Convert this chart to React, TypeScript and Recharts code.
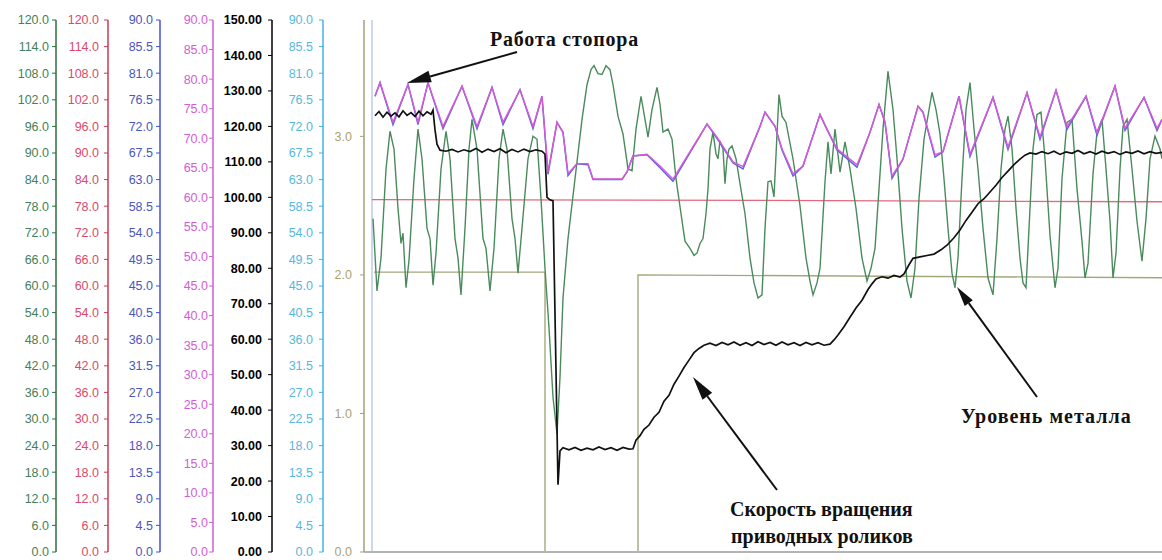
import React from "react";
import { ComposedChart, Line, XAxis, YAxis, ReferenceLine } from "recharts";

// t = sample index along the record, values in the units of each channel's own axis

// Уровень металла (green axis, 0..120)
const metalLevel: [number, number][] = [
  [9, 75.2], [13, 58.9], [17, 66.3], [22, 86.4], [26, 94.9], [30, 90.9], [34, 77.5], [37, 69.6],
  [39, 71.9], [42, 59.6], [45, 65.8], [50, 84.2], [54, 95.4], [58, 88.7], [63, 73.0], [66, 70.7],
  [69, 60.2], [72, 67.4], [77, 86.4], [82, 94.9], [86, 88.7], [91, 70.7], [94, 66.3], [97, 58.0],
  [101, 73.0], [105, 90.9], [108, 97.6], [113, 90.9], [119, 70.7], [122, 68.5], [126, 58.9],
  [130, 68.5], [135, 88.7], [139, 95.4], [143, 90.9], [148, 75.2], [151, 70.7], [154, 62.9],
  [158, 73.0], [164, 88.7], [169, 93.8], [173, 93.1], [177, 79.7], [181, 64.0], [185, 50.6],
  [189, 34.9], [193, 26.6], [196, 39.4], [199, 57.3], [204, 70.7], [211, 84.2], [218, 97.6],
  [223, 105.4], [227, 108.8], [230, 109.7], [234, 107.9], [238, 107.7], [242, 109.7], [246, 108.8],
  [249, 105.4], [254, 98.3], [259, 94.3], [264, 86.4], [268, 86.0], [272, 95.4], [277, 102.8],
  [281, 97.6], [284, 93.6], [288, 99.8], [293, 104.8], [296, 101.0], [299, 94.7], [304, 95.4],
  [308, 93.1], [312, 84.2], [317, 76.3], [321, 70.1], [326, 68.5], [330, 66.9], [333, 67.4],
  [336, 69.6], [339, 70.7], [342, 76.3], [344, 81.9], [346, 90.9], [349, 94.7], [352, 89.8],
  [354, 88.7], [356, 92.7], [359, 90.9], [361, 83.1], [363, 88.7], [365, 90.9], [368, 91.6],
  [372, 88.7], [376, 83.1], [381, 76.3], [386, 66.3], [390, 60.7], [394, 57.3], [398, 58.0],
  [401, 73.0], [404, 83.5], [407, 83.7], [410, 80.1], [413, 94.3], [415, 103.2], [418, 98.3],
  [422, 96.9], [429, 88.7], [436, 78.1], [442, 66.3], [446, 61.1], [449, 58.0], [453, 60.7],
  [456, 64.0], [461, 83.5], [464, 92.5], [467, 85.3], [471, 95.4], [476, 85.7], [481, 92.5],
  [486, 86.4], [492, 77.5], [498, 66.3], [503, 61.1], [507, 64.0], [511, 68.5], [515, 81.9],
  [519, 95.4], [524, 108.4], [529, 99.8], [533, 88.7], [538, 73.0], [543, 61.1], [547, 57.3],
  [551, 64.0], [555, 79.7], [560, 93.1], [568, 103.7], [572, 99.8], [576, 94.3], [580, 84.2],
  [584, 73.0], [588, 62.9], [591, 59.6], [594, 66.3], [598, 84.2], [602, 99.8], [606, 105.9],
  [610, 95.4], [614, 86.4], [619, 73.0], [624, 61.8], [629, 58.0], [633, 70.7], [637, 86.4],
  [641, 95.4], [644, 98.3], [648, 90.9], [652, 77.5], [656, 66.3], [659, 60.7], [662, 59.6],
  [665, 73.0], [669, 90.9], [673, 98.7], [677, 99.2], [681, 88.7], [686, 71.4], [691, 59.6],
  [694, 64.0], [698, 84.2], [703, 96.9], [708, 97.6], [713, 81.9], [718, 70.1], [721, 61.8],
  [724, 65.1], [729, 85.3], [733, 94.7], [738, 97.6], [742, 86.4], [746, 74.6], [749, 61.8],
  [752, 67.4], [756, 86.4], [759, 96.0], [763, 97.6], [768, 86.4], [773, 74.6], [778, 65.6],
  [782, 75.2], [786, 88.7], [791, 93.8], [796, 90.9], [798, 88.7],
];

// Работа стопора (magenta axis, 0..90)
const stopper: [number, number][] = [
  [11, 77.1], [16, 79.4], [29, 72.7], [44, 79.1], [54, 72.7], [64, 79.4], [79, 72.0], [98, 78.8],
  [113, 72.0], [128, 78.6], [139, 72.7], [156, 78.2], [169, 72.0], [178, 77.1], [184, 64.3],
  [193, 72.7], [199, 71.0], [204, 64.0], [213, 65.7], [224, 65.7], [229, 63.1], [258, 63.1],
  [263, 64.3], [269, 67.0], [283, 67.3], [296, 65.3], [309, 63.1], [343, 72.4], [353, 70.2],
  [369, 66.0], [379, 65.2], [396, 72.0], [401, 74.4], [411, 72.0], [418, 68.2], [429, 64.0],
  [439, 65.3], [456, 74.0], [463, 71.5], [473, 68.2], [493, 65.5], [506, 71.0], [515, 75.7],
  [521, 72.7], [528, 63.6], [539, 66.5], [554, 75.4], [559, 74.4], [571, 67.2], [579, 67.7],
  [595, 77.1], [606, 67.3], [629, 76.9], [644, 68.5], [663, 77.7], [676, 70.2], [692, 78.1],
  [703, 71.9], [722, 77.1], [733, 70.9], [751, 78.8], [761, 71.7], [780, 76.9], [793, 71.7],
  [798, 73.2],
];

// stopper position feedback (blue axis, 0..90): shows under the magenta mostly at the troughs
const stopperFeedback: [number, number][] = [
  [11, 77.1], [16, 79.4], [29, 72.3], [44, 79.1], [54, 72.3], [64, 79.4], [79, 71.6], [98, 78.8],
  [113, 71.6], [128, 78.6], [139, 72.3], [156, 78.2], [169, 71.6], [178, 77.1], [184, 63.9],
  [193, 72.7], [199, 71.0], [204, 63.7], [213, 65.7], [224, 65.5], [229, 63.0], [258, 63.0],
  [263, 64.3], [269, 67.0], [283, 67.2], [296, 65.0], [309, 62.7], [343, 72.4], [353, 70.0],
  [369, 65.8], [379, 64.8], [396, 72.0], [401, 74.4], [411, 72.0], [418, 68.0], [429, 63.6],
  [439, 65.3], [456, 74.0], [463, 71.5], [473, 68.0], [493, 65.1], [506, 71.0], [515, 75.7],
  [521, 72.7], [528, 63.2], [539, 66.5], [554, 75.4], [559, 74.4], [571, 66.8], [579, 67.7],
  [595, 77.1], [606, 66.9], [629, 76.9], [644, 68.1], [663, 77.7], [676, 69.8], [692, 78.1],
  [703, 71.5], [722, 77.1], [733, 70.5], [751, 78.8], [761, 71.3], [780, 76.9], [793, 71.3],
  [798, 73.2],
];

// Скорость вращения приводных роликов (black axis, 0..150)
const rollSpeed: [number, number][] = [
  [11, 123.0], [15, 124.2], [19, 122.6], [23, 124.0], [27, 122.9], [31, 123.8], [35, 122.7],
  [39, 124.4], [43, 123.1], [47, 123.9], [51, 122.8], [55, 124.3], [59, 123.0], [63, 124.1],
  [67, 123.4], [69, 124.6], [71, 119.0], [73, 115.0], [76, 113.3], [82, 113.0], [88, 113.5],
  [94, 112.8], [100, 113.4], [106, 112.9], [112, 113.8], [118, 112.7], [124, 113.6], [130, 112.9],
  [136, 113.7], [142, 112.6], [148, 113.5], [154, 112.8], [160, 113.6], [166, 112.9], [172, 113.4],
  [178, 113.0], [181, 112.2], [183, 100.0], [186, 99.3], [189, 99.0], [194, 19.0], [196, 28.5],
  [199, 29.4], [205, 28.8], [211, 29.5], [217, 28.7], [223, 29.3], [229, 28.8], [235, 29.6],
  [241, 28.9], [247, 29.4], [253, 28.7], [259, 29.5], [265, 29.0], [269, 29.1], [272, 31.5],
  [276, 32.8], [280, 34.6], [285, 35.8], [290, 38.0], [295, 39.4], [300, 42.5], [305, 44.2],
  [310, 47.3], [315, 49.6], [320, 52.0], [325, 54.1], [330, 56.2], [335, 57.4], [340, 58.3],
  [346, 58.9], [352, 58.2], [358, 59.1], [364, 58.4], [370, 59.2], [376, 58.3], [382, 59.0],
  [388, 58.2], [394, 59.3], [400, 58.5], [406, 59.1], [412, 58.3], [418, 59.2], [424, 58.4],
  [430, 59.0], [436, 58.2], [442, 59.1], [448, 58.4], [454, 59.0], [460, 58.3], [466, 58.6],
  [470, 59.8], [474, 61.2], [480, 63.5], [486, 66.2], [492, 68.8], [498, 71.0], [504, 74.0],
  [508, 75.6], [512, 77.0], [518, 77.6], [524, 77.2], [530, 78.0], [536, 77.5], [540, 78.4],
  [545, 81.0], [549, 82.8], [556, 83.2], [563, 83.6], [570, 84.0], [577, 85.2], [583, 86.5],
  [590, 88.6], [596, 90.8], [602, 93.5], [608, 95.8], [614, 98.2], [620, 99.6], [626, 101.5],
  [632, 103.4], [638, 105.6], [644, 107.4], [650, 109.2], [656, 110.8], [661, 111.9], [666, 112.5],
  [672, 112.2], [678, 112.9], [684, 112.3], [690, 113.0], [696, 112.1], [702, 112.8], [708, 112.4],
  [714, 113.2], [720, 112.3], [726, 112.9], [732, 112.2], [738, 113.0], [744, 112.4], [750, 112.9],
  [756, 112.1], [762, 112.8], [768, 112.4], [774, 113.1], [780, 112.3], [786, 112.9], [792, 112.4],
  [798, 112.7],
];

// red channel (red axis, 0..120)
const redLevel: [number, number][] = [[8, 79.5], [400, 79.3], [798, 79.0]];

// olive step channel (olive axis, 0..3)
const stepSignal: [number, number][] = [
  [10, 2.02], [181, 2.02], [181, 0], [274, 0], [274, 2.0], [798, 1.98],
];

const greenTicks = [0, 6, 12, 18, 24, 30, 36, 42, 48, 54, 60, 66, 72, 78, 84, 90, 96, 102, 108, 114, 120];
const redTicks = greenTicks;
const blueTicks = [0, 4.5, 9, 13.5, 18, 22.5, 27, 31.5, 36, 40.5, 45, 49.5, 54, 58.5, 63, 67.5, 72, 76.5, 81, 85.5, 90];
const magentaTicks = [0, 5, 10, 15, 20, 25, 30, 35, 40, 45, 50, 55, 60, 65, 70, 75, 80, 85, 90];
const blackTicks = [0, 10, 20, 30, 40, 50, 60, 70, 80, 90, 100, 110, 120, 130, 140, 150];
const cyanTicks = blueTicks;
const oliveTicks = [0, 1, 2, 3];

const rows = (pairs: [number, number][]) => pairs.map(([t, v]) => ({ t, v }));

const FONT = "'Liberation Sans', Arial, sans-serif";

// axis ids are ordered so that "a_" sits next to the plot and "g_" is outermost
const AX = {
  olive: "a_olive",
  cyan: "b_cyan",
  black: "c_black",
  magenta: "d_magenta",
  blue: "e_blue",
  red: "f_red",
  green: "g_green",
};

function axisProps(color: string, lineColor: string, width: number, bold = false) {
  return {
    orientation: "left" as const,
    width,
    interval: 0 as const,
    allowDataOverflow: true,
    tickSize: 4,
    tickMargin: 3,
    axisLine: { stroke: lineColor, strokeWidth: 1.5 },
    tickLine: { stroke: lineColor },
    tick: { fill: color, fontSize: 12.5, fontFamily: FONT, fontWeight: bold ? 700 : 400 },
  };
}

function Arrow({ x1, y1, x2, y2, len = 22, half = 6 }: { x1: number; y1: number; x2: number; y2: number; len?: number; half?: number }) {
  const a = Math.atan2(y2 - y1, x2 - x1);
  const bx = x2 - len * Math.cos(a);
  const by = y2 - len * Math.sin(a);
  const px = -Math.sin(a) * half;
  const py = Math.cos(a) * half;
  return (
    <g>
      <line x1={x1} y1={y1} x2={bx} y2={by} stroke="#111" strokeWidth={2} />
      <polygon points={`${x2},${y2} ${bx + px},${by + py} ${bx - px},${by - py}`} fill="#111" />
    </g>
  );
}

export default function App() {
  const serif = "'Liberation Serif', 'Times New Roman', serif";
  return (
    <div style={{ position: "absolute", left: 0, top: 0, width: 1162, height: 560, background: "#fff" }}>
      <ComposedChart width={1162} height={560} margin={{ top: 20, right: 0, bottom: 4, left: 0 }}>
        <XAxis
          type="number"
          dataKey="t"
          domain={[0, 798]}
          allowDataOverflow
          height={4}
          tick={false}
          tickLine={false}
          axisLine={{ stroke: "#b4b4b4", strokeWidth: 2 }}
        />
        <YAxis yAxisId={AX.olive} {...axisProps("#aaa270", "#a4a078", 41)} tickMargin={8}
          domain={[0, 3.84]} ticks={oliveTicks} tickFormatter={(v: number) => v.toFixed(1)} />
        <YAxis yAxisId={AX.cyan} {...axisProps("#55b8dc", "#45b2e2", 51)} tickMargin={6}
          domain={[0, 90]} ticks={cyanTicks} tickFormatter={(v: number) => v.toFixed(1)} />
        <YAxis yAxisId={AX.black} {...axisProps("#000", "#000", 59, true)} tickMargin={6}
          domain={[0, 150]} ticks={blackTicks} tickFormatter={(v: number) => v.toFixed(2)} />
        <YAxis yAxisId={AX.magenta} {...axisProps("#d45cd4", "#d45cd4", 53)} tickMargin={1}
          domain={[0, 90]} ticks={magentaTicks} tickFormatter={(v: number) => v.toFixed(1)} />
        <YAxis yAxisId={AX.blue} {...axisProps("#4a56bc", "#4650d2", 52)}
          domain={[0, 90]} ticks={blueTicks} tickFormatter={(v: number) => v.toFixed(1)} />
        <YAxis yAxisId={AX.red} {...axisProps("#d84a6a", "#c83a52", 52)} tickMargin={5}
          domain={[0, 120]} ticks={redTicks} tickFormatter={(v: number) => v.toFixed(1)} />
        <YAxis yAxisId={AX.green} {...axisProps("#44805a", "#2e6e40", 56)}
          domain={[0, 120]} ticks={greenTicks} tickFormatter={(v: number) => v.toFixed(1)} />

        <ReferenceLine yAxisId={AX.olive} x={8} stroke="#bccbe6" strokeWidth={1.5} />

        <Line yAxisId={AX.olive} data={rows(stepSignal)} dataKey="v" type="linear" stroke="#a3a77c"
          strokeWidth={1.4} dot={false} isAnimationActive={false} />
        <Line yAxisId={AX.red} data={rows(redLevel)} dataKey="v" type="linear" stroke="#e4687c"
          strokeWidth={1.3} dot={false} isAnimationActive={false} />
        <Line yAxisId={AX.green} data={rows(metalLevel)} dataKey="v" type="linear" stroke="#4a8a5c"
          strokeWidth={1.4} dot={false} isAnimationActive={false} />
        <Line yAxisId={AX.blue} data={rows(stopperFeedback)} dataKey="v" type="linear" stroke="#5a66dc"
          strokeWidth={1.5} dot={false} isAnimationActive={false} />
        <Line yAxisId={AX.magenta} data={rows(stopper)} dataKey="v" type="linear" stroke="#d858d6"
          strokeWidth={1.4} dot={false} isAnimationActive={false} />
        <Line yAxisId={AX.black} data={rows(rollSpeed)} dataKey="v" type="linear" stroke="#111"
          strokeWidth={1.7} dot={false} isAnimationActive={false} />
      </ComposedChart>

      <svg width={1162} height={560} style={{ position: "absolute", left: 0, top: 0, pointerEvents: "none" }}>
        <g fontFamily={serif} fontWeight={700} fontSize={20} fill="#111">
          <text x={490} y={46} letterSpacing={0.8}>Работа стопора</text>
          <text x={730} y={516}>Скорость вращения</text>
          <text x={731} y={543}>приводных роликов</text>
          <text x={961} y={423} letterSpacing={1}>Уровень металла</text>
        </g>
        <Arrow x1={517} y1={52} x2={407} y2={83} len={24} half={6} />
        <Arrow x1={777} y1={490} x2={693} y2={377} len={24} half={6} />
        <Arrow x1={1037} y1={397} x2={957} y2={287} len={20} half={5} />
      </svg>
    </div>
  );
}
